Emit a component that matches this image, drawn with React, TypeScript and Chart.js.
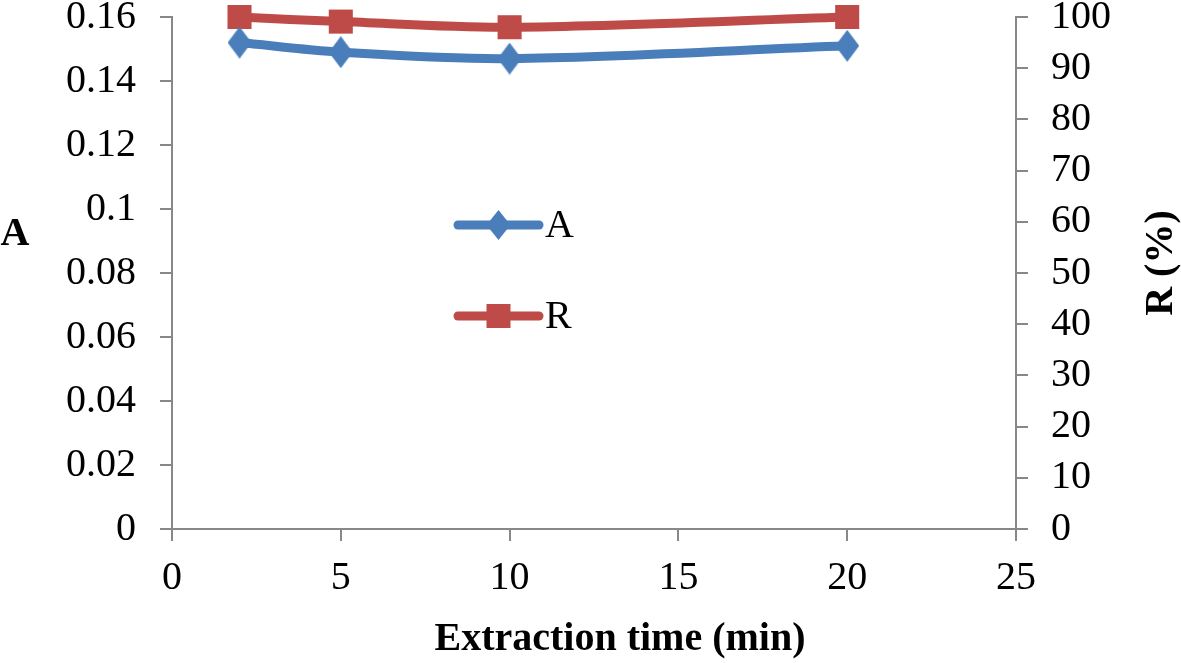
import React, { useEffect, useRef } from "react";
import { Chart, registerables } from "chart.js";

Chart.register(...registerables);

const xValues = [2, 5, 10, 20];
const aValues = [0.152, 0.149, 0.147, 0.151];
const rValues = [100, 99.1, 98.0, 100];
const leftTickLabels = ["0", "0.02", "0.04", "0.06", "0.08", "0.1", "0.12", "0.14", "0.16"];
const rightTickLabels = ["0", "10", "20", "30", "40", "50", "60", "70", "80", "90", "100"];
const xTickLabels = ["0", "5", "10", "15", "20", "25"];

const BLUE = "#4a7ebb";
const RED = "#be4b48";
const AXIS = "#888888";
const FONT = "'Liberation Serif', 'Times New Roman', serif";

function makeDiamond(w: number, h: number, color: string) {
  const c = document.createElement("canvas");
  c.width = w;
  c.height = h;
  const g = c.getContext("2d")!;
  g.fillStyle = color;
  g.beginPath();
  g.moveTo(w / 2, 0);
  g.lineTo(w, h / 2);
  g.lineTo(w / 2, h);
  g.lineTo(0, h / 2);
  g.closePath();
  g.fill();
  return c;
}

const decorPlugin = {
  id: "decor",
  afterDraw(chart: any) {
    const { ctx, chartArea } = chart;
    const L = chartArea.left;
    const T = chartArea.top;
    ctx.save();
    const items = [
      { label: "A", color: BLUE, style: "diamond", dy: 208 },
      { label: "R", color: RED, style: "square", dy: 299 },
    ];
    for (const it of items) {
      const y = T + it.dy;
      const x0 = L + 286;
      const x1 = L + 367;
      ctx.strokeStyle = it.color;
      ctx.lineWidth = 9;
      ctx.lineCap = "round";
      ctx.beginPath();
      ctx.moveTo(x0, y);
      ctx.lineTo(x1, y);
      ctx.stroke();
      const cx = (x0 + x1) / 2;
      ctx.fillStyle = it.color;
      ctx.beginPath();
      if (it.style === "diamond") {
        ctx.moveTo(cx, y - 15);
        ctx.lineTo(cx + 12, y);
        ctx.lineTo(cx, y + 15);
        ctx.lineTo(cx - 12, y);
        ctx.closePath();
      } else {
        ctx.rect(cx - 12, y - 12, 24, 24);
      }
      ctx.fill();
      ctx.fillStyle = "#000";
      ctx.font = `40px ${FONT}`;
      ctx.textAlign = "left";
      ctx.textBaseline = "middle";
      ctx.fillText(it.label, x1 + 6, y + 1);
    }
    ctx.fillStyle = "#000";
    ctx.font = `bold 40px ${FONT}`;
    ctx.textAlign = "center";
    ctx.textBaseline = "alphabetic";
    ctx.fillText("Extraction time (min)", L + 448, 650);
    ctx.fillText("A", 15, 245);
    ctx.save();
    ctx.translate(1172, 263);
    ctx.rotate(-Math.PI / 2);
    ctx.fillText("R (%)", 0, 0);
    ctx.restore();
    ctx.restore();
  },
};

export default function App() {
  const ref = useRef<HTMLCanvasElement | null>(null);
  useEffect(() => {
    if (!ref.current) return;
    const gridOpts = {
      display: true,
      drawOnChartArea: false,
      drawTicks: true,
      tickLength: 12,
      color: AXIS,
      lineWidth: 2,
    };
    const noPad = (s: any) => {
      s.paddingTop = 0;
      s.paddingBottom = 0;
      s.paddingLeft = 0;
      s.paddingRight = 0;
    };
    const diamond = makeDiamond(24, 32, BLUE);
    const chart = new Chart(ref.current, {
      type: "line",
      data: {
        datasets: [
          {
            label: "A",
            data: xValues.map((x, i) => ({ x, y: aValues[i] })),
            borderColor: BLUE,
            backgroundColor: BLUE,
            borderWidth: 9,
            pointStyle: diamond,
            pointRadius: 16,
            pointBorderWidth: 0,
            tension: 0.33,
            yAxisID: "y",
            clip: false as any,
          },
          {
            label: "R",
            data: xValues.map((x, i) => ({ x, y: rValues[i] })),
            borderColor: RED,
            backgroundColor: RED,
            borderWidth: 9,
            pointStyle: "rect",
            pointRadius: 17,
            pointBorderWidth: 0,
            tension: 0.33,
            yAxisID: "y1",
            clip: false as any,
          },
        ],
      },
      options: {
        responsive: false,
        animation: false,
        layout: { padding: { top: 15, right: 0, left: 0, bottom: 0 } },
        plugins: { legend: { display: false }, tooltip: { enabled: false } },
        scales: {
          x: {
            type: "linear",
            min: 0,
            max: 25,
            grid: gridOpts,
            border: { display: true, color: AXIS, width: 2 },
            ticks: {
              stepSize: 5,
              padding: 13,
              autoSkip: false,
              color: "#000",
              font: { family: FONT, size: 40 },
              maxRotation: 0,
              callback: (_v: any, i: number) => xTickLabels[i],
            },
            afterFit: (s: any) => {
              s.height = 134;
              noPad(s);
            },
          },
          y: {
            type: "linear",
            position: "left",
            min: 0,
            max: 0.16,
            grid: gridOpts,
            border: { display: true, color: AXIS, width: 2 },
            ticks: {
              stepSize: 0.02,
              padding: 24,
              autoSkip: false,
              color: "#000",
              font: { family: FONT, size: 40 },
              callback: (_v: any, i: number) => leftTickLabels[i],
            },
            afterFit: (s: any) => {
              s.width = 172;
              noPad(s);
            },
          },
          y1: {
            type: "linear",
            position: "right",
            min: 0,
            max: 100,
            grid: gridOpts,
            border: { display: true, color: AXIS, width: 2 },
            ticks: {
              stepSize: 10,
              padding: 23,
              autoSkip: false,
              color: "#000",
              font: { family: FONT, size: 40 },
              callback: (_v: any, i: number) => rightTickLabels[i],
            },
            afterFit: (s: any) => {
              s.width = 165;
              noPad(s);
            },
          },
        },
      },
      plugins: [decorPlugin],
    } as any);
    return () => chart.destroy();
  }, []);
  return (
    <div style={{ position: "absolute", left: 0, top: 0, width: 1181, height: 663, background: "#fff" }}>
      <canvas ref={ref} width={1181} height={663} style={{ display: "block" }} />
    </div>
  );
}
